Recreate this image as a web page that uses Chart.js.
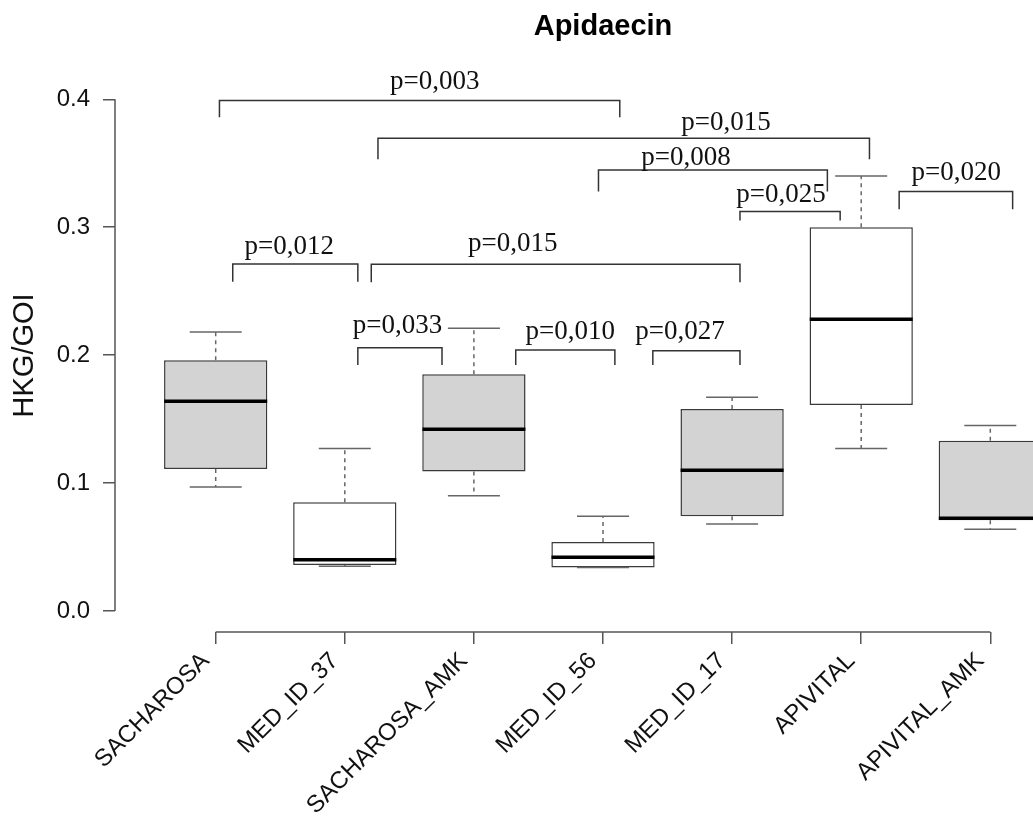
<!DOCTYPE html>
<html>
<head>
<meta charset="utf-8">
<title>Apidaecin</title>
<script src="https://cdn.jsdelivr.net/npm/chart.js@4/dist/chart.umd.min.js"></script>
<style>
  html, body { margin: 0; padding: 0; background: #fff; overflow: hidden; }
  #wrap { width: 1091px; height: 816px; }
</style>
</head>
<body>
<div id="wrap"><canvas id="boxChart" width="1091" height="816"></canvas></div>
<script>
// groups and box statistics (HKG/GOI)
const categories = ['SACHAROSA', 'MED_ID_37', 'SACHAROSA_AMK', 'MED_ID_56', 'MED_ID_17', 'APIVITAL', 'APIVITAL_AMK'];
const whiskerLow  = [0.097, 0.035, 0.090, 0.034, 0.068, 0.127, 0.064];
const q1          = [0.111, 0.036, 0.109, 0.034, 0.074, 0.161, 0.071];
const median      = [0.164, 0.040, 0.142, 0.042, 0.110, 0.228, 0.0725];
const q3          = [0.196, 0.085, 0.185, 0.054, 0.158, 0.300, 0.133];
const whiskerHigh = [0.218, 0.127, 0.221, 0.074, 0.167, 0.340, 0.145];
const yTicks = [0, 0.1, 0.2, 0.3, 0.4];

// significance brackets: ends on the category axis, top and foot of the legs
const bracketFrom   = [1.029, 2.257, 3.965, 5.061, 6.294, 1.132, 2.205, 2.101, 3.324, 4.386];
const bracketTo     = [4.130, 6.064, 5.738, 5.837, 7.173, 2.101, 5.061, 2.753, 4.092, 5.061];
const bracketTop    = [0.399, 0.3696, 0.3448, 0.3122, 0.3279, 0.2713, 0.2710, 0.2058, 0.2040, 0.2034];
const bracketFoot   = [0.386, 0.3532, 0.3279, 0.3052, 0.3141, 0.2574, 0.2570, 0.1923, 0.1923, 0.1923];
const pLabels = ['p=0,003', 'p=0,015', 'p=0,008', 'p=0,025', 'p=0,020', 'p=0,012', 'p=0,015', 'p=0,033', 'p=0,010', 'p=0,027'];
const pLabelX = [2.696, 4.953, 4.643, 5.379, 6.736, 1.569, 3.301, 2.409, 3.747, 4.596];
const pLabelY = [0.408, 0.3757, 0.3488, 0.3200, 0.3370, 0.2791, 0.2817, 0.2171, 0.2125, 0.2125];

const boxFill = categories.map((c, i) => i % 2 === 0 ? '#d3d3d3' : '#ffffff');

const stems = [];
categories.forEach((c, i) => {
  stems.push({x: i + 1, y: q3[i]}, {x: i + 1, y: whiskerHigh[i]}, {x: i + 1, y: null});
  stems.push({x: i + 1, y: q1[i]}, {x: i + 1, y: whiskerLow[i]}, {x: i + 1, y: null});
});

const caps = [];
categories.forEach((c, i) => {
  caps.push({x: i + 1, y: whiskerHigh[i]}, {x: i + 1, y: whiskerLow[i]});
});

const brackets = [];
bracketFrom.forEach((x1, k) => {
  const x2 = bracketTo[k];
  brackets.push({x: x1, y: bracketFoot[k]}, {x: x1, y: bracketTop[k]},
                {x: x2, y: bracketTop[k]}, {x: x2, y: bracketFoot[k]}, {x: x2, y: null});
});

// R style axis lines (only between first and last tick) and the p-value texts
const extras = {
  id: 'extras',
  afterDatasetsDraw(chart) {
    const {ctx, scales: {x, y}} = chart;
    ctx.save();
    ctx.strokeStyle = '#555';
    ctx.lineWidth = 1.5;
    ctx.beginPath();
    ctx.moveTo(x.left, y.getPixelForValue(yTicks[0]));
    ctx.lineTo(x.left, y.getPixelForValue(yTicks[yTicks.length - 1]));
    ctx.moveTo(x.getPixelForValue(1), y.bottom);
    ctx.lineTo(x.getPixelForValue(categories.length), y.bottom);
    ctx.stroke();

    ctx.fillStyle = '#111';
    ctx.font = '27px "Liberation Serif", "Times New Roman", serif';
    ctx.textAlign = 'center';
    ctx.textBaseline = 'alphabetic';
    pLabels.forEach((t, k) => {
      ctx.fillText(t, x.getPixelForValue(pLabelX[k]), y.getPixelForValue(pLabelY[k]));
    });
    ctx.restore();
  }
};

new Chart(document.getElementById('boxChart'), {
  type: 'bar',
  data: {
    datasets: [
      {
        label: 'box',
        data: categories.map((c, i) => ({x: i + 1, y: [q1[i], q3[i]]})),
        backgroundColor: boxFill,
        borderColor: '#3a3a3a',
        borderWidth: 1.5,
        borderSkipped: false,
        barPercentage: 0.8,
        categoryPercentage: 1.0,
        order: 5
      },
      {
        type: 'line',
        label: 'whisker',
        data: stems,
        borderColor: '#666',
        borderWidth: 1.5,
        borderDash: [4, 4],
        pointRadius: 0,
        spanGaps: false,
        tension: 0,
        order: 4
      },
      {
        type: 'line',
        label: 'cap',
        data: caps,
        showLine: false,
        pointStyle: 'line',
        pointRadius: 26,
        pointBorderWidth: 1.5,
        pointBorderColor: '#666',
        order: 3
      },
      {
        type: 'line',
        label: 'median',
        data: categories.map((c, i) => ({x: i + 1, y: median[i]})),
        showLine: false,
        pointStyle: 'line',
        pointRadius: 51.5,
        pointBorderWidth: 3.5,
        pointBorderColor: '#000',
        order: 2
      },
      {
        type: 'line',
        label: 'bracket',
        data: brackets,
        borderColor: '#333',
        borderWidth: 1.5,
        pointRadius: 0,
        spanGaps: false,
        tension: 0,
        order: 1
      }
    ]
  },
  options: {
    responsive: false,
    animation: false,
    events: [],
    layout: { padding: 0, autoPadding: false },
    plugins: {
      legend: { display: false },
      tooltip: { enabled: false },
      title: {
        display: true,
        text: 'Apidaecin',
        fullSize: false,
        color: '#000',
        font: { family: '"Liberation Sans", Arial, sans-serif', size: 29, weight: 'bold' },
        padding: { top: 10, bottom: 34 }
      }
    },
    scales: {
      x: {
        type: 'linear',
        min: 0.22,
        max: 7.78,
        offset: false,
        border: { display: false },
        grid: { offset: false, drawOnChartArea: false, drawTicks: true, tickLength: 12, color: '#555', lineWidth: 1.5 },
        ticks: {
          stepSize: 1,
          includeBounds: false,
          autoSkip: false,
          minRotation: 45,
          maxRotation: 45,
          padding: 3,
          labelOffset: -10,
          color: '#111',
          font: { family: '"Liberation Sans", Arial, sans-serif', size: 24 },
          callback: v => categories[v - 1] || ''
        },
        afterFit(scale) {
          scale.height = 184;
          scale.paddingLeft = 0;
          scale.paddingRight = 0;
        }
      },
      y: {
        min: -0.0164,
        max: 0.416,
        border: { display: false },
        grid: { drawOnChartArea: false, drawTicks: true, tickLength: 12, color: '#555', lineWidth: 1.5 },
        ticks: {
          stepSize: 0.1,
          includeBounds: false,
          padding: 13,
          color: '#111',
          font: { family: '"Liberation Sans", Arial, sans-serif', size: 24 },
          callback: v => v.toFixed(1)
        },
        title: {
          display: true,
          text: 'HKG/GOI',
          color: '#111',
          padding: { top: 8, bottom: 0 },
          font: { family: '"Liberation Sans", Arial, sans-serif', size: 29 }
        },
        afterFit(scale) { scale.width = 115; }
      }
    }
  },
  plugins: [extras]
});
</script>
</body>
</html>
